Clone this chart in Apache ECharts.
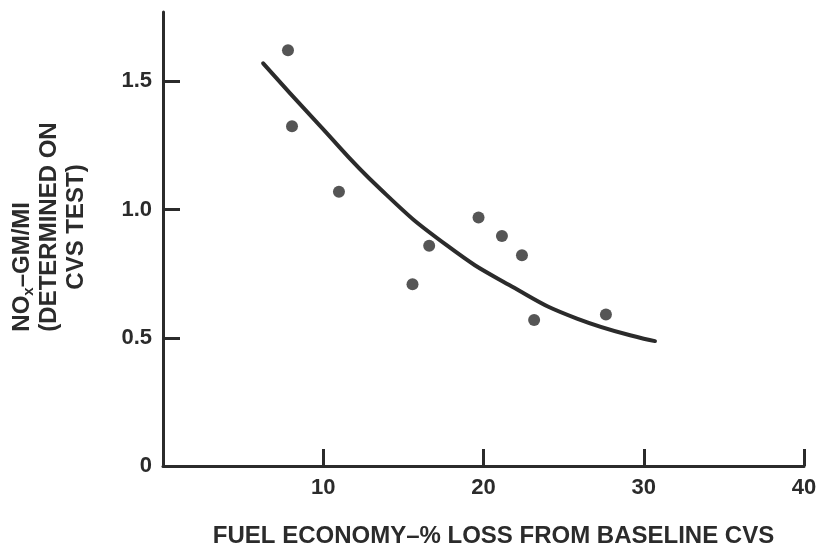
<!DOCTYPE html>
<html>
<head>
<meta charset="utf-8">
<script src="https://cdn.jsdelivr.net/npm/echarts@6/dist/echarts.min.js"></script>
<style>
  html, body { margin: 0; padding: 0; background: #fff; }
  #chart { width: 821px; height: 553px; }
</style>
</head>
<body>
<div id="chart"></div>
<script>
// measured points
const pointX = [7.8, 8.05, 10.98, 15.57, 16.61, 19.69, 21.15, 22.4, 23.16, 27.64];
const pointY = [1.621, 1.325, 1.069, 0.709, 0.859, 0.969, 0.897, 0.822, 0.569, 0.591];
// fitted curve
const curveX = [6.25, 9.6, 13.56, 17.72, 21.77, 25.83, 30.7];
const curveY = [1.57, 1.34, 1.08, 0.86, 0.70, 0.575, 0.487];
const xTicks = [10, 20, 30, 40];
const yTicks = [0, 0.5, 1.0, 1.5];

const ink = "#2b2b2b";
const font = "'Liberation Sans', Arial, sans-serif";

let points = [];
for (let i = 0; i < pointX.length; i++) {
  points.push([pointX[i], pointY[i]]);
}
let curve = [];
for (let i = 0; i < curveX.length; i++) {
  curve.push([curveX[i], curveY[i]]);
}

let options = {
  animation: false,
  backgroundColor: "#fff",
  grid: {
    left: 163,
    right: 17,
    top: 12,
    bottom: 87
  },
  xAxis: {
    type: "value",
    min: 0,
    max: 40,
    name: "FUEL ECONOMY–% LOSS FROM BASELINE CVS",
    nameLocation: "middle",
    nameGap: 58,
    nameTextStyle: {
      fontFamily: font,
      fontSize: 24,
      fontWeight: "bold",
      color: ink,
      padding: [0, 0, 0, 20]
    },
    axisLine: {
      lineStyle: { color: ink, width: 3 }
    },
    axisTick: {
      inside: true,
      length: 17,
      customValues: xTicks,
      lineStyle: { color: ink, width: 3 }
    },
    axisLabel: {
      customValues: xTicks,
      margin: 11,
      fontFamily: font,
      fontSize: 22,
      fontWeight: "bold",
      color: ink
    },
    splitLine: { show: false }
  },
  yAxis: {
    type: "value",
    min: 0,
    max: 1.77,
    name: "{a|NO}{s|x}{a|–GM/MI}\n(DETERMINED ON\nCVS TEST)",
    nameLocation: "middle",
    nameRotate: 90,
    nameGap: 73,
    nameTextStyle: {
      fontFamily: font,
      fontSize: 24,
      fontWeight: "bold",
      lineHeight: 27,
      color: ink,
      padding: [0, 0, 0, 24],
      rich: {
        a: {
          align: "left",
          fontFamily: font,
          fontSize: 24,
          fontWeight: "bold",
          lineHeight: 27,
          color: ink
        },
        s: {
          align: "left",
          fontFamily: font,
          fontSize: 15,
          fontWeight: "bold",
          verticalAlign: "bottom",
          lineHeight: 14,
          color: ink
        }
      }
    },
    axisLine: {
      lineStyle: { color: ink, width: 3 }
    },
    axisTick: {
      inside: true,
      length: 17,
      customValues: [0.5, 1.0, 1.5],
      lineStyle: { color: ink, width: 3 }
    },
    axisLabel: {
      customValues: yTicks,
      margin: 11,
      fontFamily: font,
      fontSize: 22,
      fontWeight: "bold",
      color: ink,
      formatter: function (v) {
        return v === 0 ? "0" : v.toFixed(1);
      }
    },
    splitLine: { show: false }
  },
  series: [
    {
      type: "line",
      data: curve,
      smooth: 0.5,
      showSymbol: false,
      lineStyle: { color: ink, width: 4, cap: "round" }
    },
    {
      type: "scatter",
      data: points,
      symbolSize: 12,
      itemStyle: { color: ink }
    }
  ]
};

let myChart = echarts.init(document.getElementById("chart"));
myChart.setOption(options);
</script>
</body>
</html>
